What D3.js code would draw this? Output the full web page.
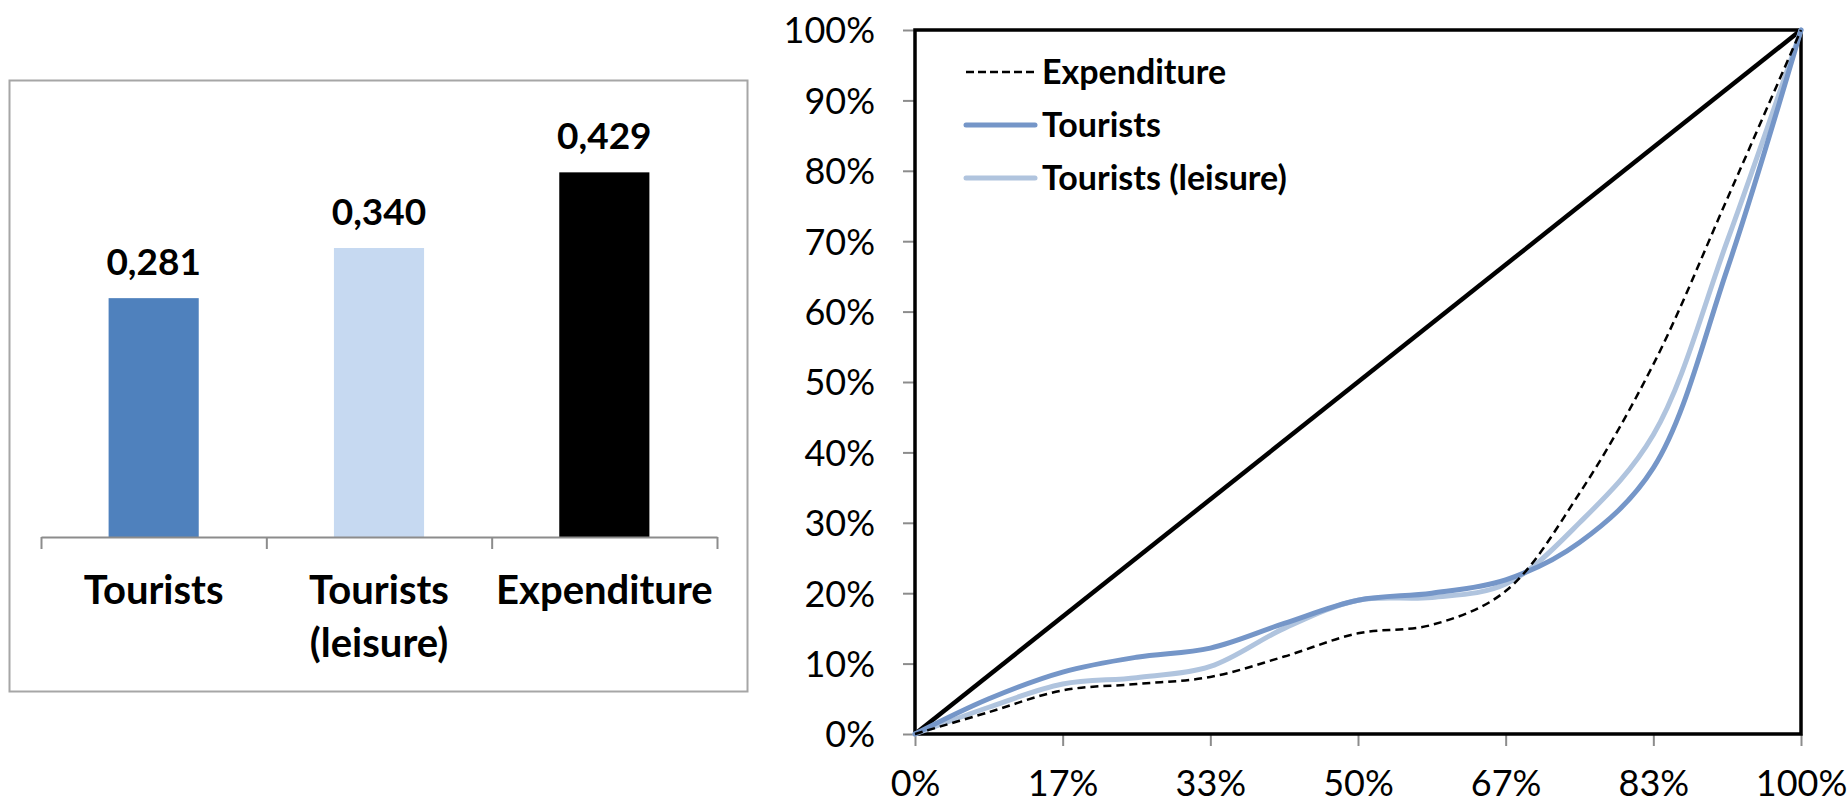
<!DOCTYPE html>
<html>
<head>
<meta charset="utf-8">
<script src="https://cdn.jsdelivr.net/npm/d3@7"></script>
<style>
  html, body { margin: 0; padding: 0; background: #fff; }
  svg { display: block; }
  text { font-family: Lato, "Open Sans", sans-serif; fill: #000; }
</style>
</head>
<body>
<svg id="chart" width="1847" height="804"></svg>
<script>
// ---------- Data ----------
const barCategories = ["Tourists", "Tourists (leisure)", "Expenditure"];
const barCategoryLines = [["Tourists"], ["Tourists", "(leisure)"], ["Expenditure"]];
const barValues = [0.281, 0.340, 0.429];
const barColors = ["#4F81BD", "#C6D9F1", "#000000"];

// Lorenz / concentration curves: 13 points at k/12
const lorenzX = [0, 1/12, 2/12, 3/12, 4/12, 5/12, 6/12, 7/12, 8/12, 9/12, 10/12, 11/12, 1];
const expenditure = [0, 0.031, 0.062, 0.071, 0.081, 0.110, 0.143, 0.155, 0.203, 0.342, 0.525, 0.760, 1];
const tourists    = [0, 0.050, 0.088, 0.109, 0.122, 0.157, 0.190, 0.200, 0.219, 0.272, 0.378, 0.660, 1];
const touristsLeisure = [0, 0.038, 0.071, 0.080, 0.096, 0.150, 0.190, 0.194, 0.213, 0.300, 0.425, 0.700, 1];
const equalityLine = [0, 1];

const xTickValues = [0, 1/6, 2/6, 3/6, 4/6, 5/6, 1];
const xTickLabels = ["0%", "17%", "33%", "50%", "67%", "83%", "100%"];
const yTickValues = [0, 0.1, 0.2, 0.3, 0.4, 0.5, 0.6, 0.7, 0.8, 0.9, 1];
const yTickLabels = ["0%", "10%", "20%", "30%", "40%", "50%", "60%", "70%", "80%", "90%", "100%"];

const legendNames = ["Expenditure", "Tourists", "Tourists (leisure)"];

// ---------- Setup ----------
const svg = d3.select("#chart");
const commaFmt = d3.formatLocale({decimal: ",", thousands: ".", grouping: [3], currency: ["", ""]}).format(".3f");

// ---------- Bar chart ----------
const barG = svg.append("g");
barG.append("rect")
  .attr("x", 9.5).attr("y", 80.5).attr("width", 738).attr("height", 611)
  .attr("fill", "#fff").attr("stroke", "#A6A6A6").attr("stroke-width", 2);

const xBand = d3.scaleBand().domain(barCategories).range([41, 717]).padding(0);
const yBar = d3.scaleLinear().domain([0, 0.5]).range([537, 112]);
const barW = xBand.bandwidth() * 0.4;

barG.selectAll("rect.bar").data(barValues).join("rect")
  .attr("class", "bar")
  .attr("x", (d, i) => xBand(barCategories[i]) + (xBand.bandwidth() - barW) / 2)
  .attr("y", d => yBar(d))
  .attr("width", barW)
  .attr("height", d => yBar(0) - yBar(d))
  .attr("fill", (d, i) => barColors[i]);

barG.selectAll("text.val").data(barValues).join("text")
  .attr("class", "val")
  .attr("x", (d, i) => xBand(barCategories[i]) + xBand.bandwidth() / 2)
  .attr("y", d => yBar(d) - 23)
  .attr("text-anchor", "middle")
  .attr("font-size", 37).attr("font-weight", "bold")
  .text(d => commaFmt(d));

// category axis with boundary ticks
const catPos = d3.scaleLinear().domain([0, barCategories.length]).range([41, 717]);
const catAxis = d3.axisBottom(catPos).tickValues(d3.range(barCategories.length + 1))
  .tickSize(12).tickSizeOuter(0).tickFormat("");
const catAxisG = barG.append("g").attr("transform", `translate(0,${yBar(0)})`).call(catAxis);
catAxisG.selectAll("path, line").attr("stroke", "#8C8C8C").attr("stroke-width", 2);

barG.selectAll("text.cat").data(barCategoryLines).join("text")
  .attr("class", "cat")
  .attr("text-anchor", "middle")
  .attr("font-size", 40).attr("font-weight", "bold")
  .each(function(lines, i) {
    const t = d3.select(this);
    const cx = xBand(barCategories[i]) + xBand.bandwidth() / 2;
    lines.forEach((ln, j) => {
      t.append("tspan").attr("x", cx).attr("y", 604 + j * 53).text(ln);
    });
  });

// ---------- Lorenz chart ----------
const lg = svg.append("g");
const xL = d3.scaleLinear().domain([0, 1]).range([915, 1801]);
const yL = d3.scaleLinear().domain([0, 1]).range([734, 30]);

const yAxis = d3.axisLeft(yL).tickValues(yTickValues).tickSize(12).tickSizeOuter(0)
  .tickPadding(28).tickFormat((d, i) => yTickLabels[i]);
const yAxisG = lg.append("g").attr("transform", `translate(${xL(0)},0)`).call(yAxis);
yAxisG.select(".domain").attr("stroke", "#8C8C8C").attr("stroke-width", 1);
yAxisG.selectAll(".tick line").attr("stroke", "#8C8C8C").attr("stroke-width", 2);
yAxisG.selectAll(".tick text").attr("font-size", 36).attr("font-family", "Lato, sans-serif")
  .attr("fill", "#000").attr("dy", "0.36em");

const xAxis = d3.axisBottom(xL).tickValues(xTickValues).tickSize(12).tickSizeOuter(0)
  .tickFormat((d, i) => xTickLabels[i]);
const xAxisG = lg.append("g").attr("transform", `translate(0,${yL(0)})`).call(xAxis);
xAxisG.select(".domain").attr("stroke", "#8C8C8C").attr("stroke-width", 1);
xAxisG.selectAll(".tick line").attr("stroke", "#8C8C8C").attr("stroke-width", 2);
xAxisG.selectAll(".tick text").attr("font-size", 36).attr("font-family", "Lato, sans-serif")
  .attr("fill", "#000").attr("dy", null).attr("y", 62);

// frame
lg.append("rect")
  .attr("x", xL(0)).attr("y", yL(1))
  .attr("width", xL(1) - xL(0)).attr("height", yL(0) - yL(1))
  .attr("fill", "none").attr("stroke", "#000").attr("stroke-width", 3.5);

const line = d3.line().x(d => xL(d[0])).y(d => yL(d[1])).curve(d3.curveCatmullRom.alpha(0.5));
const pts = arr => lorenzX.map((x, i) => [x, arr[i]]);

lg.append("path")
  .datum(equalityLine.map(v => [v, v]))
  .attr("d", d3.line().x(d => xL(d[0])).y(d => yL(d[1])))
  .attr("fill", "none").attr("stroke", "#000").attr("stroke-width", 4.5);

const seriesStyles = [
  {name: legendNames[2], data: touristsLeisure, color: "#B0C4DE", width: 5, dash: null},
  {name: legendNames[1], data: tourists, color: "#7596C8", width: 5, dash: null},
  {name: legendNames[0], data: expenditure, color: "#000", width: 2.5, dash: "8,5"}
];
seriesStyles.forEach(s => {
  lg.append("path").datum(pts(s.data))
    .attr("d", line)
    .attr("fill", "none")
    .attr("stroke", s.color).attr("stroke-width", s.width)
    .attr("stroke-dasharray", s.dash)
    .attr("stroke-linejoin", "round").attr("stroke-linecap", s.dash ? "butt" : "round");
});

// legend
const legendItems = [
  {name: legendNames[0], color: "#000", width: 2.5, dash: "8,4"},
  {name: legendNames[1], color: "#7596C8", width: 5, dash: null},
  {name: legendNames[2], color: "#B0C4DE", width: 5, dash: null}
];
const legG = lg.append("g");
legendItems.forEach((it, i) => {
  const cy = 72 + i * 53;
  legG.append("line").attr("x1", 966).attr("x2", 1035).attr("y1", cy).attr("y2", cy)
    .attr("stroke", it.color).attr("stroke-width", it.width)
    .attr("stroke-dasharray", it.dash).attr("stroke-linecap", it.dash ? "butt" : "round");
  legG.append("text").attr("x", 1042).attr("y", cy + 11.5)
    .attr("font-size", 34).attr("font-weight", "bold").text(it.name);
});
</script>
</body>
</html>
